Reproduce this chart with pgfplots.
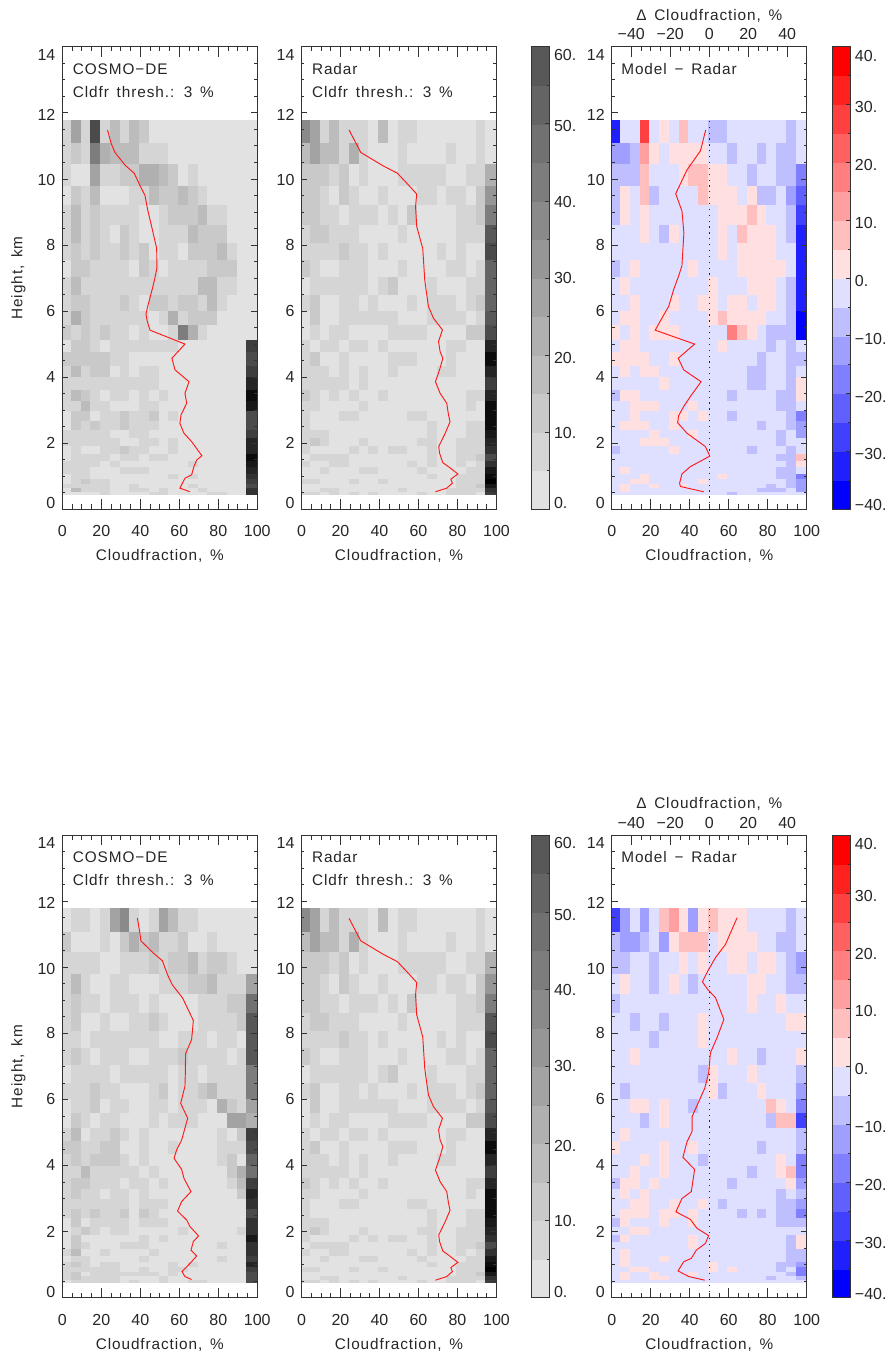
\documentclass[border=0pt]{standalone}
\usepackage{pgfplots}
\usepackage{pgfplotstable}
\usepackage{fontspec}
\setmainfont{Liberation Sans}
\newfontfamily\lab[LetterSpace=6,WordSpace=1.5]{Liberation Sans}
\pgfplotsset{compat=1.18}

% columns: lower edge of the height bin (km), then 20 cloud-fraction bins
\pgfplotstableread[header=false]{
11.1 8 28 8 63 8 18 8 18 13 3 3 3 3 3 3 3 3 3 3 3
10.47 8 13 8 43 23 18 18 18 8 8 8 3 3 3 3 3 3 3 3 3
9.82 8 3 3 28 8 8 13 13 23 23 18 13 3 8 3 3 3 3 3 3
9.22 3 13 8 18 3 3 3 8 8 18 13 13 18 13 8 3 3 3 3 3
8.64 8 18 8 13 8 8 8 8 3 3 8 13 13 13 18 8 8 3 3 3
8.08 8 18 8 13 8 3 13 8 3 3 8 8 8 18 13 13 13 3 3 3
7.58 8 13 8 13 8 8 13 8 13 3 8 8 3 13 13 13 18 8 3 3
7.06 3 13 13 8 8 8 8 3 13 8 3 8 8 8 8 13 13 13 3 3
6.52 8 18 8 8 8 8 8 8 8 8 8 8 8 8 18 18 8 8 3 3
6.03 8 13 13 8 8 8 13 8 3 13 13 8 13 13 8 18 8 3 3 3
5.6 8 23 13 8 8 8 8 8 8 3 8 23 8 13 13 13 3 3 3 3
5.15 13 8 13 8 13 8 8 3 8 3 3 8 43 23 8 3 3 3 3 3
4.77 3 13 13 8 3 8 8 8 8 8 8 8 3 3 3 3 3 3 3 68
4.37 13 13 13 13 13 8 8 3 3 3 3 3 3 3 3 3 3 3 3 63
4.02 8 18 8 13 13 3 8 3 8 8 3 3 3 3 3 3 3 3 3 68
3.64 8 8 8 8 8 8 8 8 8 8 3 3 3 3 3 3 3 3 3 78
3.31 8 18 13 8 3 8 8 3 8 3 8 3 3 3 3 3 3 3 3 88
3.0 8 8 18 8 8 3 3 3 8 8 3 3 3 3 3 3 3 3 3 83
2.7 3 13 13 3 8 8 13 8 8 13 3 8 3 3 3 3 3 3 3 63
2.42 3 13 8 13 8 8 13 8 8 8 3 3 3 3 3 3 3 3 3 63
2.17 8 8 8 8 8 3 3 8 8 3 3 3 3 3 3 3 3 3 3 68
1.93 8 8 8 8 8 8 3 3 8 8 3 8 3 3 3 3 3 3 3 78
1.7 3 8 3 3 8 8 13 8 8 3 3 8 3 3 3 3 3 3 3 78
1.49 3 8 8 8 8 3 8 8 3 8 8 3 3 3 3 3 3 3 3 88
1.29 8 8 8 8 3 8 3 3 3 3 3 3 3 8 3 3 3 3 3 83
1.09 8 8 8 3 3 3 8 8 8 3 3 3 3 3 3 3 3 3 3 78
0.94 3 8 8 3 3 3 3 3 3 3 3 8 3 8 3 3 3 3 3 73
0.79 3 8 13 8 8 3 3 3 3 3 3 3 3 3 3 3 3 3 3 68
0.67 8 8 8 8 8 3 3 8 3 3 3 3 3 8 3 3 3 3 3 63
0.55 3 18 8 8 8 3 3 8 8 3 8 3 3 3 8 3 3 3 3 73
0.46 3 3 3 3 8 3 3 3 3 8 8 3 3 3 3 8 8 3 3 73
}\tabA

\pgfplotstableread[header=false]{
11.1 38 28 8 18 8 8 8 3 18 3 8 8 3 3 3 3 3 3 8 3
10.47 18 28 18 18 8 23 8 3 3 3 8 3 3 3 3 8 3 3 8 3
9.82 13 13 13 8 13 3 8 3 3 3 8 8 8 8 8 3 3 8 8 23
9.22 13 13 8 3 13 8 3 3 8 3 3 3 8 8 3 8 8 3 13 33
8.64 13 13 8 8 3 8 8 8 3 8 3 13 3 3 3 3 8 8 13 43
8.08 8 13 13 8 8 8 3 3 3 3 8 3 3 3 3 3 8 8 8 58
7.58 8 8 8 8 13 8 8 3 8 3 3 3 3 3 8 3 8 3 3 63
7.06 13 8 3 3 8 8 8 3 3 3 8 3 3 3 3 8 8 3 8 53
6.52 3 8 8 8 8 8 8 3 8 13 3 3 3 8 3 3 3 8 8 53
6.03 8 13 3 3 8 8 3 8 3 3 3 8 3 8 8 8 3 8 13 53
5.6 3 13 3 3 8 8 8 8 8 8 3 3 3 8 8 8 8 3 8 58
5.15 3 8 3 8 8 3 3 3 3 8 8 8 8 3 3 3 3 13 13 63
4.77 8 3 8 8 3 8 8 3 8 3 3 3 3 3 3 8 8 3 3 78
4.37 8 13 3 3 8 3 3 3 3 8 8 8 3 3 3 8 3 3 3 88
4.02 8 8 8 3 8 3 8 3 3 8 3 3 3 3 8 8 3 3 3 78
3.64 8 8 8 8 8 3 8 3 3 3 3 3 3 3 3 3 3 3 3 68
3.31 13 8 3 8 3 8 3 3 8 3 3 3 3 3 3 3 3 8 8 78
3.0 8 8 3 3 3 3 8 3 3 3 3 3 3 3 3 3 3 8 3 88
2.7 8 3 3 3 8 8 3 3 3 3 3 8 8 3 3 3 3 3 3 88
2.42 8 3 3 3 3 3 3 3 3 3 3 3 3 8 3 3 3 8 8 88
2.17 8 8 8 3 3 3 3 3 3 3 3 3 3 8 3 3 3 8 8 83
1.93 8 13 8 3 3 3 8 3 3 3 3 3 8 8 3 3 8 8 8 78
1.7 8 3 3 3 3 8 3 8 3 8 8 3 3 8 3 3 8 8 8 73
1.49 3 8 8 8 8 3 3 3 3 3 3 3 3 8 3 3 8 8 13 63
1.29 8 3 3 8 8 3 3 3 3 3 3 8 3 8 3 3 8 3 8 73
1.09 3 3 8 3 3 3 8 8 3 3 3 3 8 3 3 3 3 8 8 83
0.94 3 3 3 3 3 3 3 3 3 3 3 3 3 8 3 3 8 8 8 88
0.79 8 8 3 3 3 8 3 3 8 3 3 3 3 3 3 3 8 8 8 93
0.67 3 3 3 3 3 3 3 3 3 3 3 3 3 3 3 3 8 8 13 83
0.55 3 3 8 8 3 3 3 3 3 3 8 3 3 3 3 8 8 8 8 73
0.46 8 8 3 8 3 8 3 8 3 3 3 3 8 3 3 8 8 8 3 68
}\tabB

\pgfplotstableread[header=false]{
11.1 -33 -3 -3 28 -3 3 -3 8 -3 -3 -8 -8 -3 -3 -3 -3 -3 -3 -8 -3
10.47 -13 -13 -8 13 3 -3 3 3 3 3 -3 -3 -8 -3 -3 -8 -3 -8 -8 -3
9.82 -8 -8 -8 8 -3 -3 -3 3 8 8 3 3 -3 -3 -8 -3 -3 -8 -8 -18
9.22 -8 3 -3 8 -8 -3 -3 -3 -3 8 3 3 3 -3 3 -8 -8 -3 -13 -23
8.64 -8 3 -3 3 -3 -3 -3 -3 -3 -3 -3 3 3 3 8 3 -3 -3 -8 -28
8.08 -3 -3 -3 3 -3 -8 3 -3 -3 -3 -3 3 -3 8 3 3 3 -3 -8 -33
7.58 -3 -3 -3 -3 -3 -3 -3 -3 -3 -3 -3 3 -3 3 3 3 3 -3 -3 -33
7.06 -8 -3 3 -3 -3 -3 -3 -3 3 -3 -3 -3 -3 3 3 3 3 3 -3 -33
6.52 -3 3 -3 -3 -3 -3 -3 -3 -3 -3 3 -3 -3 -3 3 3 3 -3 -8 -33
6.03 -3 -3 3 -3 -3 -3 3 -3 -3 3 3 -3 3 3 -3 3 3 -3 -8 -33
5.6 -3 3 3 -3 -3 3 -3 -3 -3 -3 3 8 3 3 3 3 -3 -3 -8 -38
5.15 3 -3 3 -3 3 3 3 -3 -3 -3 -3 -3 18 8 3 -3 -8 -8 -8 -38
4.77 -3 3 3 -3 -3 -3 -3 -3 -3 -3 -3 3 -3 -3 -3 -3 -8 -3 -8 -3
4.37 3 3 3 3 -3 -3 3 -3 -3 -3 -3 -3 -3 -3 -3 -8 -3 -3 -8 -8
4.02 -3 3 -3 3 3 -3 -3 -3 -3 -3 -3 -3 -3 -3 -8 -8 -3 -3 -8 -3
3.64 -3 -3 -3 -3 -3 3 -3 -3 -3 -3 -3 -3 -3 -3 -8 -8 -3 -3 -8 3
3.31 -8 3 3 -3 -3 -3 -3 -3 -3 -3 -3 -3 -8 -3 -3 -3 -3 -8 -8 3
3.0 -3 -3 3 3 3 -3 -3 -3 3 -3 -3 -3 -3 -3 -3 -3 -3 -8 -8 -3
2.7 -3 -3 3 -3 -3 -3 3 3 -3 3 -3 -3 -8 -3 -3 -3 -3 -3 -8 -18
2.42 -3 3 3 3 -3 -3 3 -3 -3 -3 -3 -3 -3 -3 -3 -8 -3 -3 -8 -13
2.17 -3 -3 -3 -3 3 -3 -3 -3 3 -3 -3 -3 -3 -3 -3 -3 -3 -8 -3 -13
1.93 -3 -3 -3 3 3 3 -3 -3 -3 -3 -3 -3 -3 -3 -3 -3 -3 -8 -3 -3
1.7 -8 -3 -3 -3 -3 -3 3 -3 -3 -3 -3 -3 -3 -3 -8 -3 -3 -3 -8 -3
1.49 -3 -3 -3 -3 -3 -3 -3 -3 -3 -3 -3 -3 -3 -3 -3 -3 -3 -8 -8 8
1.29 -3 -3 -3 -3 -3 -3 -3 -3 -3 -3 -3 -3 -3 -3 -3 -3 -3 -3 -8 3
1.09 -3 3 -3 -3 -3 -3 -3 -3 -3 -3 -3 -3 -3 -3 -3 -3 -3 -8 -8 -3
0.94 -3 -3 -3 3 -3 -3 -3 -3 -3 -3 -3 3 -3 -3 -3 -3 -3 -8 -8 -18
0.79 -3 -3 3 3 -3 -3 -3 -3 -3 3 -3 -3 -3 -3 -3 -3 -3 -3 -8 -13
0.67 -3 3 -3 -3 3 -3 -3 3 -3 -3 -3 -3 -3 -3 -3 -3 -8 -3 -8 -13
0.55 -3 3 -3 -3 -3 -3 -3 -3 -3 -3 -3 -3 -3 -3 -3 -8 -8 -8 -3 -13
0.46 -3 -3 -3 -3 -3 -3 -3 -3 -3 -3 -3 -3 -8 -3 -3 -3 -3 -3 -3 -3
}\tabC

\pgfplotstableread[header=false]{
11.1 3 8 8 3 8 28 38 8 3 8 28 18 8 8 3 3 3 3 3 3
10.47 13 3 3 3 8 3 13 23 13 18 8 8 13 3 3 8 3 3 3 3
9.82 8 8 8 8 3 3 8 8 8 13 8 13 13 18 8 13 13 8 3 3
9.22 8 18 8 3 3 8 8 3 3 3 8 8 8 13 13 18 8 8 8 28
8.64 8 13 8 8 3 8 8 8 3 8 3 3 3 3 8 8 8 13 13 48
8.08 8 13 3 3 8 3 3 8 8 13 8 3 3 3 8 8 8 8 13 58
7.58 8 8 3 8 8 8 8 8 8 8 3 3 8 8 8 3 8 8 3 58
7.06 8 13 8 3 8 8 8 3 3 8 8 8 13 8 8 8 8 3 8 58
6.52 3 8 8 8 8 3 8 8 8 8 8 3 8 8 3 8 8 8 8 43
6.03 8 8 8 13 8 8 3 3 3 8 13 3 8 8 13 18 8 8 8 43
5.6 3 8 8 13 3 8 8 3 3 8 8 3 8 8 8 3 23 13 8 28
5.15 3 13 8 3 8 8 3 3 3 8 3 8 8 8 3 3 3 28 28 23
4.77 8 18 3 8 8 13 8 3 8 3 3 3 3 3 3 3 8 3 13 68
4.37 13 13 8 8 13 13 3 3 8 3 3 8 3 3 3 3 8 8 8 63
4.02 8 13 8 13 13 13 8 3 8 3 3 3 3 3 3 3 8 13 3 53
3.64 8 8 18 8 8 8 8 8 3 8 3 3 3 3 3 3 3 13 23 48
3.31 8 13 13 8 8 8 3 8 8 3 8 3 3 3 3 3 3 8 18 68
3.0 8 13 8 8 3 8 8 3 8 3 3 3 3 3 3 3 3 3 13 78
2.7 8 8 8 8 8 8 8 3 8 8 8 3 3 3 3 3 3 3 3 73
2.42 8 13 8 13 8 8 13 3 13 8 3 3 3 3 3 3 3 3 3 63
2.17 3 13 3 8 8 8 8 3 8 8 8 3 3 3 3 3 3 3 3 73
1.93 3 8 13 8 3 8 8 3 3 3 3 3 8 3 3 3 3 3 8 73
1.7 3 13 3 3 3 3 3 3 8 3 8 3 3 3 3 3 3 3 3 83
1.49 3 13 8 3 3 3 8 8 8 3 3 3 3 3 3 3 8 3 3 73
1.29 8 18 3 3 8 3 3 3 3 8 3 3 3 3 3 3 3 3 3 73
1.09 3 8 8 3 3 3 3 3 8 3 3 3 3 3 3 3 8 3 3 68
0.94 8 13 8 3 8 8 3 3 3 3 3 8 3 8 3 3 3 3 3 78
0.79 8 8 8 8 8 8 3 3 8 3 3 8 8 3 3 3 3 3 3 68
0.67 8 13 3 8 8 8 8 8 8 8 3 8 3 3 3 3 3 3 3 63
0.55 8 13 8 8 8 8 3 3 3 3 8 3 3 3 3 3 3 3 3 63
0.46 3 8 8 8 8 8 3 8 3 3 8 3 3 8 8 3 3 3 3 63
}\tabD

\pgfplotstableread[header=false]{
11.1 -28 -13 -3 -13 -3 8 13 3 -13 3 8 3 3 3 -3 -3 -3 -3 -8 -3
10.47 -8 -13 -13 -8 -3 -13 3 8 8 8 -3 3 3 3 3 -3 -3 -8 -8 -3
9.82 -8 -8 -3 -3 -8 -3 -3 3 -3 3 -3 -3 3 3 -3 3 3 -3 -8 -13
9.22 -3 3 -3 -3 -8 -3 3 -3 -8 -3 -3 -3 -3 -3 3 3 -3 -3 -8 -8
8.64 -8 -3 -3 -3 -3 -3 -3 -3 -3 -3 -3 -3 -3 -3 3 -3 -3 3 -3 -3
8.08 -3 -3 -8 -3 -3 -8 -3 -3 -3 3 -3 -3 -3 -3 -3 -3 -3 -3 3 3
7.58 -3 -3 -3 -3 -8 -3 -3 -3 -3 3 -3 -3 -3 -3 -3 -3 -3 -3 -3 -3
7.06 -3 -3 3 -3 -3 -3 -3 -3 -3 -3 -3 -3 3 -3 -3 -8 -3 -3 -3 3
6.52 -3 -3 -3 -3 -3 -3 -3 -3 -3 -8 3 -3 -3 -3 3 -3 -3 -3 -3 -8
6.03 -3 -8 -3 -3 -3 -3 -3 -3 -3 -3 3 -8 -3 -3 -3 3 -3 -3 -3 -13
5.6 -3 -3 3 3 -3 3 -3 -3 -8 -3 -3 -3 -3 -3 -3 -3 8 3 -3 -18
5.15 -3 -3 -3 -8 -3 3 -3 -3 -3 -3 -3 -3 -3 -3 -3 -3 -8 8 8 -28
4.77 -3 3 -3 -3 -3 -3 -3 -3 -3 -3 -3 -3 -3 -3 -3 -3 -3 -3 -3 -8
4.37 3 -3 -3 -3 -3 3 -3 -3 3 -3 -3 -3 -3 -3 -3 -8 -3 -3 -3 -8
4.02 -3 -3 -3 3 -3 3 -3 -3 -3 -8 -3 -3 -3 -3 -3 -3 -3 3 -3 -18
3.64 -3 -3 3 -3 -3 3 -3 -3 -3 -3 -3 -3 -3 -3 -8 -3 -3 3 8 -18
3.31 -8 3 3 -3 3 -3 -3 -3 -3 -3 -3 -3 -8 -3 -3 -3 -3 -3 3 -13
3.0 -3 3 -3 3 -3 -3 -3 -3 -3 -3 -3 -3 -3 -3 -3 -3 -3 -8 -3 -8
2.7 -3 -3 3 3 -3 -3 3 -3 -3 3 -3 -8 -3 -3 -3 -3 -3 -8 -8 -13
2.42 -3 3 3 3 -3 3 3 -3 3 -3 -3 -3 -3 -8 -3 -8 -3 -8 -8 -18
2.17 -8 3 -3 -3 -3 3 -3 -3 3 -3 -3 -3 -3 -3 -3 -3 -3 -8 -8 -8
1.93 -3 -3 3 3 -3 -3 -3 -3 -3 -3 -3 -3 -3 -3 -3 -3 -3 -3 -3 -3
1.7 -8 3 -3 -3 -3 -3 -3 -3 3 -3 -3 -3 -3 -3 -3 -3 -3 -3 -8 3
1.49 -3 -3 -3 -3 -3 -3 -3 -3 3 -3 -3 -3 -3 -3 -3 -3 -3 -3 -8 3
1.29 -3 3 -3 -3 -3 -3 -3 -3 -3 -3 -3 -3 -3 -3 -3 -3 -3 -3 -8 -8
1.09 -3 3 -3 -3 -3 3 -3 -3 -3 -3 -3 -3 -3 -3 -3 -3 -3 -3 -8 -8
0.94 -3 3 -3 -3 -3 -3 -3 -3 -3 -3 3 -3 -3 -3 -3 -3 -3 -8 -8 -13
0.79 -3 -3 3 3 -3 -3 -3 -3 -3 -3 3 -3 3 -3 -3 -3 -3 -8 -3 -18
0.67 -3 3 -3 -3 3 -3 -3 -3 3 -3 -3 -3 -3 -3 -3 -3 -3 -3 -8 -18
0.55 -3 3 -3 -3 3 3 -3 -3 -3 -3 -3 -3 -3 -3 -3 -3 -8 -3 -3 -8
0.46 -3 -3 -3 -3 -3 -3 -3 -3 -3 -3 -3 -3 -3 -3 -3 -3 -3 -3 -3 -3
}\tabE

% red mean profiles
\pgfplotstableread{
x y
23.2 11.48
25 11.08
27 10.8
32.1 10.42
36.9 10.17
39.8 9.8
42.4 9.5
43.8 9.06
45.8 8.56
47.4 8.15
48.4 7.9
48.5 7.3
47.5 7.0
46.3 6.7
44 6.19
42.9 5.91
43.6 5.68
45 5.42
62.9 5.0
56.2 4.57
57.8 4.22
65 3.86
62.9 3.51
63.8 3.21
60.9 2.86
60.3 2.6
62.4 2.3
66.3 2.05
71.6 1.62
68.9 1.49
67.5 1.29
66.3 1.04
62.9 0.94
60.3 0.64
65.5 0.53
}\lineA
\pgfplotstableread{
x y
24.4 11.48
30.4 10.8
42 10.39
49.2 10.17
54 9.87
59.1 9.54
58.5 9.16
59.1 8.56
62.2 7.89
63.2 6.96
63.9 6.64
65.1 6.14
67.7 5.78
72.3 5.43
70.3 5.08
71.1 4.77
72.5 4.57
70.8 4.22
68.7 3.86
71.1 3.51
74.5 3.21
75.4 2.86
76.2 2.65
73.7 2.3
70.4 1.9
70.8 1.7
72.5 1.41
75.4 1.29
80.2 1.07
76.6 0.91
77.4 0.79
74.5 0.64
68.7 0.53
}\lineB
\pgfplotstableread{
x y
48.2 11.48
45.5 10.85
38.6 10.27
32.8 9.55
36 9.03
37 8.37
36 7.37
34.3 7.06
31.7 6.64
29.2 6.14
25.2 5.73
22.3 5.42
42.5 5.0
34.1 4.57
36.9 4.22
45.8 3.86
40.3 3.41
36.9 3.11
34.3 2.83
33.8 2.62
38.6 2.3
48 1.9
50.3 1.61
40.3 1.29
36 1.07
34.8 0.79
35.2 0.69
47.2 0.53
}\lineC
\pgfplotstableread{
x y
38.5 11.49
39.8 11.03
40.3 10.8
46.7 10.43
51.3 10.2
54 9.77
56.4 9.47
61.7 9.07
64.6 8.71
67.2 8.39
66.8 8.11
66.3 7.81
63.2 7.38
63.1 6.8
62.9 6.4
60.7 5.88
64.3 5.43
61.2 4.77
58.6 4.47
57.3 4.22
61.2 3.88
62.4 3.61
66 3.21
61.2 2.91
59.1 2.62
63.8 2.35
65.5 2.15
69.9 1.87
67.2 1.7
66 1.44
68.9 1.26
65.5 1.04
61.4 0.79
62.9 0.64
66.3 0.55
}\lineD
\pgfplotstableread{
x y
64.3 11.5
60.9 11.04
58.3 10.69
53.2 10.29
49.2 9.88
46.5 9.56
49.2 9.33
53.2 9.08
57.5 8.42
54 7.87
50.6 7.41
49.7 6.8
47.7 6.34
44.6 5.93
41.2 5.48
41.2 5.03
38.6 4.72
36.5 4.25
42.5 3.88
40.8 3.21
36 3.0
32.9 2.6
40.3 2.37
43.7 2.1
49.7 1.88
48 1.64
43.4 1.44
40.8 1.19
36.9 1.09
34 0.81
39.5 0.64
47.7 0.53
}\lineE

% turn a wide table into the lattice of cell corners for a surf plot
\newcommand\xedge[1]{\ifnum#1=1 0\else\the\numexpr5*(#1-1)-1\relax.5\fi}
\newcommand\buildmesh[3]{%
  \gdef#2{}%
  \foreach \r in {30,29,...,0}{%
    \pgfplotstablegetelem{\r}{[index]0}\of#1%
    \global\let\curY\pgfplotsretval
    \foreach \c in {1,...,20}{%
      \pgfplotstablegetelem{\r}{[index]\c}\of#1%
      \xdef#2{#2 (\xedge{\c},\curY) [\pgfplotsretval]}%
    }%
    \xdef#2{#2 (100,\curY) [\pgfplotsretval]}%
  }%
  \foreach \c in {1,...,20}{\xdef#2{#2 (\xedge{\c},11.78) [#3]}}%
  \xdef#2{#2 (100,11.78) [#3]}%
}
\buildmesh{\tabA}{\meshA}{3}
\buildmesh{\tabB}{\meshB}{3}
\buildmesh{\tabC}{\meshC}{-3}
\buildmesh{\tabD}{\meshD}{3}
\buildmesh{\tabE}{\meshE}{-3}

\newcommand\tf{\fontsize{12}{13}\selectfont}
\newcommand\lf{\lab\fontsize{11.5}{13}\selectfont}
\pgfplotsset{
  colormap={cg}{gray(0pt)=(0.886); gray(90pt)=(0.004)},
  colormap={cd}{rgb(0pt)=(0,0,1); rgb(35pt)=(.875,.875,1); rgb(41pt)=(1,.875,.875); rgb(76pt)=(1,0,0)},
  meshG/.style={surf,shader=flat corner,mesh/ordering=x varies,point meta=explicit},
  grayscale/.style={colormap name=cg,point meta min=3,point meta max=93},
  diffscale/.style={colormap name=cd,point meta min=-38,point meta max=38},
  redl/.style={red!90!white,line width=0.7pt,no marks},
  panel/.style={scale only axis,width=146.25pt,height=346.95pt,xmin=0,xmax=100,ymin=0,ymax=14,
    anchor=south west,axis on top,
    axis line style={black!80,line width=0.65pt},
    tick style={black!80,line width=0.5pt},
    every tick label/.append style={font=\tf,text=black!85}},
  ytk/.style={xtick=\empty,ytick={0,2,...,14},minor y tick num=3,
    major tick length=4.5pt,minor tick length=2.25pt,
    yticklabels={\yl{0}{4.5},\yl{2}{0},\yl{4}{0},\yl{6}{0},\yl{8}{0},\yl{10}{-1},\yl{12}{-1.5},\yl{14}{-6}},
    yticklabel style={anchor=east,xshift=-1.7pt}},
  xtk/.style={ytick=\empty,xtick={0,20,...,100},minor x tick num=3,
    major tick length=7.5pt,minor tick length=3.6pt,
    xticklabels={0,20,40,60,80,100},
    xticklabel style={anchor=center,yshift=-16.6pt},
    xlabel={Cloudfraction, \%},
    every axis x label/.style={at={(axis description cs:0.5,0)},anchor=center,yshift=-35.2pt,font=\lf,text=black!85}},
  cbar/.style={scale only axis,width=13.5pt,height=346.95pt,xmin=0,xmax=1,anchor=south west,
    axis on top,xtick=\empty,ytick pos=right,yticklabel pos=right,
    axis line style={black!80,line width=0.65pt},
    tick style={black!80,line width=0.5pt},
    major tick length=3pt,minor tick length=1.6pt,
    every tick label/.append style={font=\tf,text=black!85},
    yticklabel style={anchor=west,xshift=0pt}},
}
\newcommand\yl[2]{\raisebox{\dimexpr #2pt-4.1pt\relax}[0pt][0pt]{#1}}
\newcommand\addmesh[2]{\edef\tmpcmd{\noexpand\addplot[#2,meshG,mesh/rows=32,mesh/cols=21] coordinates {#1};}\tmpcmd}
\newcommand\lbl[3]{\node[anchor=west,inner sep=0pt,font=\lf,text=black!85] at (axis cs:#1,#2) {#3};}

\newcommand\onerow[7]{%
  \begin{axis}[panel,ytk,grayscale,at={(46.725pt,#1)},ylabel={Height, km},
     every axis y label/.style={at={(axis description cs:0,0.5)},rotate=90,anchor=center,yshift=33pt,font=\lf,text=black!85}]
    \addmesh{#2}{grayscale}
    \addplot[redl] table[x=x,y=y]{#5};
    \lbl{5.3}{13.33}{COSMO−DE}
    \lbl{5.3}{12.64}{Cldfr thresh.: 3 \%}
  \end{axis}
  \begin{axis}[panel,xtk,at={(46.725pt,#1)}]\end{axis}
  \begin{axis}[panel,ytk,grayscale,at={(226.1pt,#1)}]
    \addmesh{#3}{grayscale}
    \addplot[redl] table[x=x,y=y]{#6};
    \lbl{5.3}{13.33}{Radar}
    \lbl{5.3}{12.64}{Cldfr thresh.: 3 \%}
  \end{axis}
  \begin{axis}[panel,xtk,at={(226.1pt,#1)}]\end{axis}
  \begin{axis}[cbar,grayscale,at={(398.5pt,#1)},ymin=0,ymax=60,ytick={0,10,...,60},minor y tick num=1,
     yticklabels={\yl{0.}{4.5},\yl{10.}{-0.5},\yl{20.}{-2},\yl{30.}{0},\yl{40.}{-0.5},\yl{50.}{-2},\yl{60.}{-6}}]
    \addplot[meshG,grayscale,mesh/rows=13,mesh/cols=2] coordinates {
      (0,0)[3](1,0)[3](0,5)[8](1,5)[8](0,10)[13](1,10)[13](0,15)[18](1,15)[18](0,20)[23](1,20)[23]
      (0,25)[28](1,25)[28](0,30)[33](1,30)[33](0,35)[38](1,35)[38](0,40)[43](1,40)[43]
      (0,45)[48](1,45)[48](0,50)[53](1,50)[53](0,55)[58](1,55)[58](0,60)[58](1,60)[58]};
  \end{axis}
  \begin{axis}[panel,ytk,diffscale,at={(458.8pt,#1)}]
    \addmesh{#4}{diffscale}
    \addplot[black!85,line width=0.6pt,dash pattern=on 0.9pt off 3.5pt] coordinates {(50,0)(50,11.78)};
    \addplot[redl] table[x=x,y=y]{#7};
    \lbl{4.8}{13.33}{Model − Radar}
  \end{axis}
  \begin{axis}[panel,xtk,at={(458.8pt,#1)},xtick pos=bottom]\end{axis}
  \begin{axis}[panel,at={(458.8pt,#1)},xmin=-50,xmax=50,ytick=\empty,xtick={-40,-20,...,40},minor x tick num=3,
     major tick length=7.5pt,minor tick length=3.6pt,xtick pos=upper,xticklabel pos=upper,
     xticklabels={−40,−20,0,20,40},xticklabel style={anchor=center,yshift=9.3pt},
     title={Δ Cloudfraction, \%},
     title style={at={(0.5,1)},anchor=center,yshift=17.2pt,font=\lf,text=black!85}]\end{axis}
  \begin{axis}[cbar,diffscale,at={(624.2pt,#1)},ymin=-40,ymax=40,ytick={-40,-30,...,40},minor y tick num=1,
     yticklabels={\yl{−40.}{3},\yl{−30.}{-2.2},\yl{−20.}{-2.2},\yl{−10.}{-2.2},\yl{0.}{-2.2},\yl{10.}{-2.2},\yl{20.}{-2.2},\yl{30.}{-2.2},\yl{40.}{-6.7}}]
    \addplot[meshG,diffscale,mesh/rows=17,mesh/cols=2] coordinates {
      (0,-40)[-38](1,-40)[-38](0,-35)[-33](1,-35)[-33](0,-30)[-28](1,-30)[-28](0,-25)[-23](1,-25)[-23]
      (0,-20)[-18](1,-20)[-18](0,-15)[-13](1,-15)[-13](0,-10)[-8](1,-10)[-8](0,-5)[-3](1,-5)[-3]
      (0,0)[3](1,0)[3](0,5)[8](1,5)[8](0,10)[13](1,10)[13](0,15)[18](1,15)[18]
      (0,20)[23](1,20)[23](0,25)[28](1,25)[28](0,30)[33](1,30)[33](0,35)[38](1,35)[38](0,40)[38](1,40)[38]};
  \end{axis}
}

\begin{document}
\begin{tikzpicture}[x=1pt,y=1pt]
  \path[use as bounding box] (0,0) rectangle (671.25pt,1017.75pt);
  \onerow{635.775pt}{\meshA}{\meshB}{\meshC}{\lineA}{\lineB}{\lineC}
  \onerow{44.475pt}{\meshD}{\meshB}{\meshE}{\lineD}{\lineB}{\lineE}
\end{tikzpicture}
\end{document}
